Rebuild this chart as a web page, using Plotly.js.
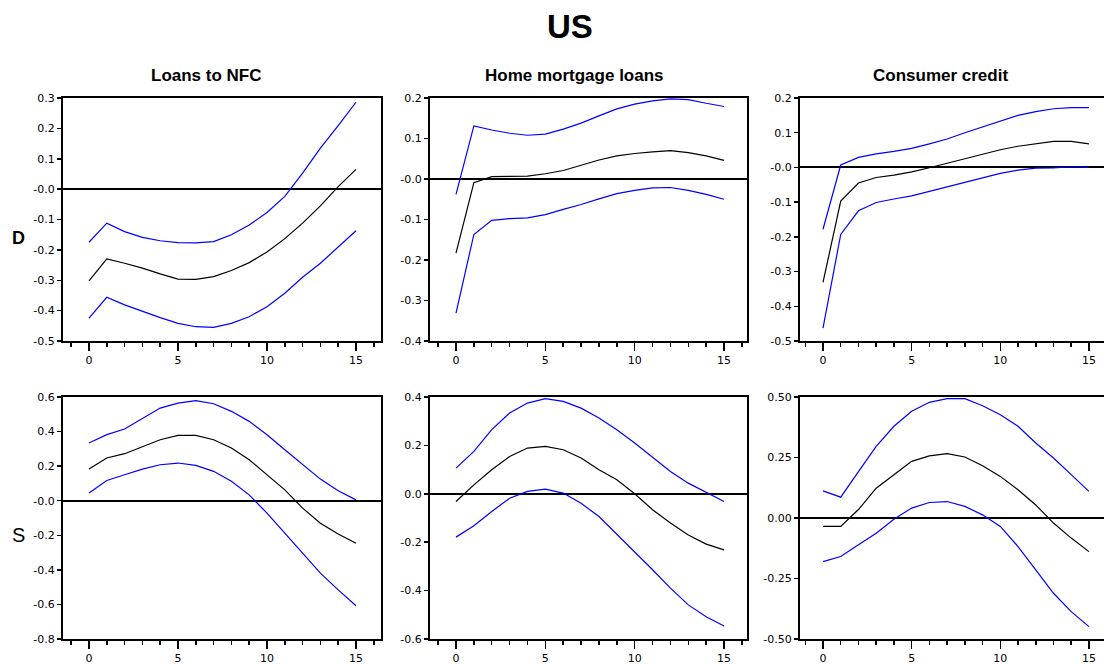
<!DOCTYPE html>
<html>
<head>
<meta charset="utf-8">
<script src="https://cdn.plot.ly/plotly-3.0.1.min.js"></script>
<style>
html,body{margin:0;padding:0;overflow:hidden;background:#fff;}
#chart{width:1108px;height:664px;}
</style>
</head>
<body>
<div id="chart"></div>
<script>
// ---- data ----
const steps = [0,1,2,3,4,5,6,7,8,9,10,11,12,13,14,15];

const columnTitles = ["Loans to NFC", "Home mortgage loans", "Consumer credit"];
const rowLabels = ["D", "S"];
const mainTitle = "US";

// Row D, Loans to NFC
const dNfcUpper = [-0.175,-0.112,-0.140,-0.159,-0.170,-0.176,-0.177,-0.173,-0.150,-0.118,-0.077,-0.024,0.053,0.135,0.209,0.286];
const dNfcMid   = [-0.302,-0.230,-0.244,-0.260,-0.279,-0.296,-0.297,-0.288,-0.268,-0.242,-0.207,-0.163,-0.112,-0.055,0.008,0.065];
const dNfcLower = [-0.425,-0.356,-0.381,-0.403,-0.423,-0.442,-0.453,-0.455,-0.442,-0.420,-0.387,-0.343,-0.290,-0.244,-0.189,-0.137];

// Row D, Home mortgage loans
const dHomeUpper = [-0.038,0.131,0.121,0.113,0.108,0.111,0.123,0.138,0.156,0.173,0.185,0.193,0.198,0.196,0.187,0.179];
const dHomeMid   = [-0.183,-0.009,0.006,0.007,0.007,0.013,0.021,0.034,0.047,0.057,0.063,0.067,0.070,0.065,0.057,0.046];
const dHomeLower = [-0.331,-0.137,-0.102,-0.098,-0.096,-0.088,-0.075,-0.063,-0.049,-0.036,-0.028,-0.022,-0.021,-0.028,-0.038,-0.050];

// Row D, Consumer credit
const dConsUpper = [-0.178,0.007,0.029,0.039,0.046,0.055,0.068,0.082,0.100,0.116,0.133,0.150,0.161,0.169,0.172,0.172];
const dConsMid   = [-0.331,-0.097,-0.045,-0.029,-0.022,-0.013,-0.001,0.012,0.026,0.039,0.051,0.061,0.068,0.075,0.075,0.068];
const dConsLower = [-0.463,-0.193,-0.125,-0.101,-0.091,-0.082,-0.069,-0.056,-0.042,-0.029,-0.017,-0.008,-0.002,-0.001,0.002,0.000];

// Row S, Loans to NFC
const sNfcUpper = [0.334,0.382,0.415,0.478,0.536,0.565,0.579,0.561,0.517,0.459,0.382,0.295,0.208,0.125,0.058,0.005];
const sNfcMid   = [0.183,0.247,0.272,0.314,0.353,0.378,0.378,0.353,0.305,0.237,0.150,0.063,-0.043,-0.130,-0.193,-0.246];
const sNfcLower = [0.044,0.117,0.150,0.183,0.208,0.218,0.204,0.170,0.112,0.034,-0.072,-0.188,-0.303,-0.419,-0.516,-0.608];

// Row S, Home mortgage loans
const sHomeUpper = [0.106,0.175,0.265,0.334,0.375,0.393,0.382,0.354,0.313,0.265,0.210,0.152,0.092,0.044,0.007,-0.032];
const sHomeMid   = [-0.032,0.037,0.099,0.154,0.189,0.196,0.182,0.148,0.099,0.058,0.000,-0.066,-0.121,-0.170,-0.208,-0.232];
const sHomeLower = [-0.179,-0.132,-0.073,-0.018,0.010,0.019,0.003,-0.039,-0.094,-0.166,-0.239,-0.314,-0.390,-0.459,-0.508,-0.546];

// Row S, Consumer credit
const sConsUpper = [0.112,0.086,0.192,0.296,0.379,0.441,0.478,0.493,0.493,0.464,0.427,0.379,0.310,0.248,0.179,0.110];
const sConsMid   = [-0.035,-0.035,0.035,0.123,0.179,0.234,0.257,0.266,0.252,0.216,0.172,0.117,0.054,-0.021,-0.083,-0.139];
const sConsLower = [-0.180,-0.159,-0.111,-0.063,-0.005,0.041,0.064,0.068,0.048,0.013,-0.035,-0.118,-0.214,-0.311,-0.387,-0.449];

// y tick values / labels per panel
const yTicks1 = [0.3,0.2,0.1,0,-0.1,-0.2,-0.3,-0.4,-0.5];
const yText1  = ["0.3","0.2","0.1","-0.0","-0.1","-0.2","-0.3","-0.4","-0.5"];
const yTicks2 = [0.2,0.1,0,-0.1,-0.2,-0.3,-0.4];
const yText2  = ["0.2","0.1","-0.0","-0.1","-0.2","-0.3","-0.4"];
const yTicks3 = [0.2,0.1,0,-0.1,-0.2,-0.3,-0.4,-0.5];
const yText3  = ["0.2","0.1","-0.0","-0.1","-0.2","-0.3","-0.4","-0.5"];
const yTicks4 = [0.6,0.4,0.2,0,-0.2,-0.4,-0.6,-0.8];
const yText4  = ["0.6","0.4","0.2","-0.0","-0.2","-0.4","-0.6","-0.8"];
const yTicks5 = [0.4,0.2,0,-0.2,-0.4,-0.6];
const yText5  = ["0.4","0.2","0.0","-0.2","-0.4","-0.6"];
const yTicks6 = [0.5,0.25,0,-0.25,-0.5];
const yText6  = ["0.50","0.25","0.00","-0.25","-0.50"];
const xTicks = [0,5,10,15];
const xText  = ["0","5","10","15"];

// ---- layout geometry ----
const W = 1108, H = 664;
const colPx = [[63,381],[430,747],[800,1108]];
const rowPx = [[98,341],[397,639]];
const xZeroPx = [89,456,823];
const xPerUnit = [17.8,17.87,17.73];
const yRanges = [[-0.5,0.3],[-0.4,0.2],[-0.5,0.2],[-0.8,0.6],[-0.6,0.4],[-0.5,0.5]];
const yTickSets = [[yTicks1,yText1],[yTicks2,yText2],[yTicks3,yText3],[yTicks4,yText4],[yTicks5,yText5],[yTicks6,yText6]];

const panels = [
  [dNfcUpper,dNfcMid,dNfcLower],
  [dHomeUpper,dHomeMid,dHomeLower],
  [dConsUpper,dConsMid,dConsLower],
  [sNfcUpper,sNfcMid,sNfcLower],
  [sHomeUpper,sHomeMid,sHomeLower],
  [sConsUpper,sConsMid,sConsLower]
];

const TICKFONT = "DejaVu Sans, Liberation Sans, Arial, sans-serif";
const TITLEFONT = "Liberation Sans, Arial, sans-serif";
const traces = [];
const layout = {
  width: W, height: H,
  margin: {l:0,r:0,t:0,b:0},
  paper_bgcolor: "#fff", plot_bgcolor: "#fff",
  showlegend: false,
  font: {family: TICKFONT, color: "#000", size: 10},
  annotations: []
};

panels.forEach((p, i) => {
  const r = Math.floor(i/3), c = i % 3;
  const n = i+1;
  const xa = n === 1 ? "x" : "x"+n;
  const ya = n === 1 ? "y" : "y"+n;
  const colors = ["#0000ff","#000000","#0000ff"];
  p.forEach((series, k) => {
    traces.push({
      x: steps, y: series, xaxis: xa, yaxis: ya,
      type: "scatter", mode: "lines",
      line: {color: colors[k], width: 1.2},
      hoverinfo: "skip"
    });
  });
  const [cl, cr] = colPx[c];
  const [rt, rb] = rowPx[r];
  const x0 = (cl - xZeroPx[c]) / xPerUnit[c];
  const x1 = (cr - xZeroPx[c]) / xPerUnit[c];
  layout["xaxis" + (n===1?"":n)] = {
    domain: [cl/W, cr/W],
    anchor: ya,
    range: [x0, x1],
    showgrid: false, zeroline: false,
    showline: true, mirror: true, linecolor: "#000", linewidth: 2,
    ticks: "outside", ticklen: 8, tickwidth: 1.5, tickcolor: "#000",
    tickvals: xTicks, ticktext: xText,
    minor: {dtick: 1, tick0: 0, ticks: "outside", ticklen: 4, tickwidth: 1.5, tickcolor: "#000", showgrid: false},
    tickfont: {family: TICKFONT, size: 11, color: "#000"},
    fixedrange: true
  };
  layout["yaxis" + (n===1?"":n)] = {
    domain: [1 - rb/H, 1 - rt/H],
    anchor: xa,
    range: yRanges[i],
    showgrid: false,
    zeroline: true, zerolinecolor: "#000", zerolinewidth: 2,
    showline: true, mirror: true, linecolor: "#000", linewidth: 2,
    ticks: "outside", ticklen: 4, tickwidth: 1.5, tickcolor: "#000",
    tickvals: yTickSets[i][0], ticktext: yTickSets[i][1],
    tickfont: {family: TICKFONT, size: 11, color: "#000"},
    fixedrange: true
  };
});

// titles
layout.annotations.push({
  text: "<b>" + mainTitle + "</b>", xref: "paper", yref: "paper",
  x: 570/W, y: 1 - 26/H, xanchor: "center", yanchor: "middle",
  showarrow: false, font: {family: TITLEFONT, size: 33, color: "#000"}
});
const colCenters = [206, 574, 940];
columnTitles.forEach((t, c) => {
  layout.annotations.push({
    text: "<b>" + t + "</b>", xref: "paper", yref: "paper",
    x: colCenters[c]/W, y: 1 - 76/H, xanchor: "center", yanchor: "middle",
    showarrow: false, font: {family: TITLEFONT, size: 17, color: "#000"}
  });
});
const rowCenters = [238, 535];
const rowFonts = [{family: TITLEFONT, size: 18, color: "#000"}, {family: TITLEFONT, size: 20, color: "#000"}];
rowLabels.forEach((t, r) => {
  layout.annotations.push({
    text: r === 0 ? "<b>" + t + "</b>" : t, xref: "paper", yref: "paper",
    x: 18/W, y: 1 - rowCenters[r]/H, xanchor: "center", yanchor: "middle",
    showarrow: false, font: rowFonts[r]
  });
});

Plotly.newPlot("chart", traces, layout, {staticPlot: true, displayModeBar: false});
</script>
</body>
</html>
